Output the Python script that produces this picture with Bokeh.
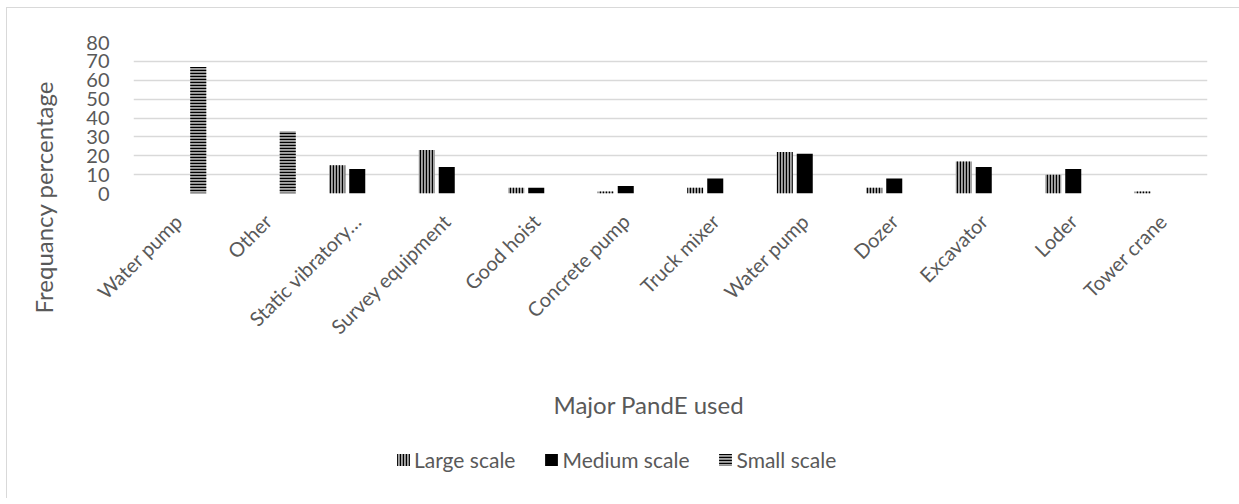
from math import pi
from bokeh.plotting import figure
from bokeh.layouts import column
from bokeh.models import (ColumnDataSource, Range1d, FixedTicker, Legend, LegendItem, Title)
from bokeh.transform import dodge
from bokeh.embed import file_html
from bokeh.resources import INLINE

categories = ["Water pump", "Other", "Static vibratory\u2026", "Survey equipment", "Good hoist",
              "Concrete pump", "Truck mixer", "Water pump", "Dozer", "Excavator", "Loder", "Tower crane"]
large_scale = [0, 0, 15, 23, 3, 1, 3, 22, 3, 17, 10, 1]
medium_scale = [0, 0, 13, 14, 3, 4, 8, 21, 8, 14, 13, 0]
small_scale = [67, 33, 0, 0, 0, 0, 0, 0, 0, 0, 0, 0]
y_ticks = [0, 10, 20, 30, 40, 50, 60, 70, 80]
series_names = ["Large scale", "Medium scale", "Small scale"]

FONT = "Lato"
TXT = "#595959"
GRID = "#d9d9d9"

idx = list(range(len(categories)))
src = ColumnDataSource(dict(x=idx, large=large_scale, medium=medium_scale, small=small_scale))

p = figure(frame_width=1074, frame_height=151, output_backend="svg", toolbar_location=None,
           x_range=Range1d(-0.5, len(categories) - 0.5), y_range=Range1d(0, 80),
           min_border_left=126, min_border_right=32, min_border_top=34, min_border_bottom=245)
p.outline_line_color = None
p.background_fill_color = "white"
p.border_fill_color = "white"

off = 0.2235
bw = 0.179
large_style = dict(fill_color="#a6a6a6", line_color=None, hatch_pattern="vertical_line",
                   hatch_color="black", hatch_scale=3, hatch_weight=1.3)
medium_style = dict(fill_color="black", line_color=None)
small_style = dict(fill_color="#a6a6a6", line_color=None, hatch_pattern="horizontal_line",
                   hatch_color="black", hatch_scale=3, hatch_weight=1.3)
p.vbar(x=dodge("x", -off), top="large", width=bw, source=src, **large_style)
p.vbar(x=dodge("x", 0), top="medium", width=bw, source=src, **medium_style)
p.vbar(x=dodge("x", off), top="small", width=bw, source=src, **small_style)

p.xgrid.grid_line_color = None
p.ygrid.grid_line_color = GRID
p.ygrid.grid_line_width = 1.5
p.yaxis.ticker = FixedTicker(ticks=y_ticks)
p.xaxis.ticker = FixedTicker(ticks=idx)
p.xaxis.major_label_overrides = {i: c for i, c in enumerate(categories)}
p.xaxis.major_label_orientation = pi / 4

for ax in (p.xaxis[0], p.yaxis[0]):
    ax.axis_line_color = None
    ax.major_tick_line_color = None
    ax.minor_tick_line_color = None
    ax.major_label_text_font = FONT
    ax.major_label_text_color = TXT
    ax.major_label_text_font_size = "20px"
    # blank spacer label, used only to push the titles outward
    ax.axis_label = " "
    ax.axis_label_text_font_size = "1px"
p.yaxis.major_label_standoff = 18
p.xaxis.major_label_standoff = 18
p.yaxis.axis_label_standoff = 17
p.xaxis.axis_label_standoff = 29

ytitle = Title(text="Frequancy percentage", align="left", offset=-120,
               text_font=FONT, text_font_size="24px", text_font_style="normal", text_color=TXT)
p.add_layout(ytitle, "left")

xtitle = Title(text="Major PandE used", align="left", offset=420,
               text_font=FONT, text_font_size="24px", text_font_style="normal", text_color=TXT)
p.add_layout(xtitle, "below")

# legend strip below the chart (swatch renderers hold no visible data)
lg = figure(width=1232, height=60, output_backend="svg", toolbar_location=None,
            x_range=Range1d(0, 1), y_range=Range1d(0, 1), x_axis_type=None, y_axis_type=None,
            min_border=0)
lg.outline_line_color = None
lg.xgrid.grid_line_color = None
lg.ygrid.grid_line_color = None
nan = float("nan")
swatch = ColumnDataSource(dict(x=[nan], top=[nan]))
g1 = lg.vbar(x="x", top="top", width=0.1, source=swatch, **large_style)
g2 = lg.vbar(x="x", top="top", width=0.1, source=swatch, **medium_style)
g3 = lg.vbar(x="x", top="top", width=0.1, source=swatch, **small_style)
legend = Legend(items=[LegendItem(label=series_names[0], renderers=[g1]),
                       LegendItem(label=series_names[1], renderers=[g2]),
                       LegendItem(label=series_names[2], renderers=[g3])],
                orientation="horizontal", location=(262, 26),
                glyph_width=16, glyph_height=15, label_standoff=3, spacing=28,
                padding=0, margin=0, border_line_color=None, background_fill_alpha=0,
                label_text_font=FONT, label_text_font_size="21px", label_text_color=TXT)
lg.add_layout(legend, "center")

layout = column(p, lg, spacing=0,
                styles={"border-left": "1px solid #d9d9d9", "border-top": "1px solid #d9d9d9",
                        "margin-left": "6px", "margin-top": "7px"})

open("out.html", "w").write(file_html(layout, INLINE))
